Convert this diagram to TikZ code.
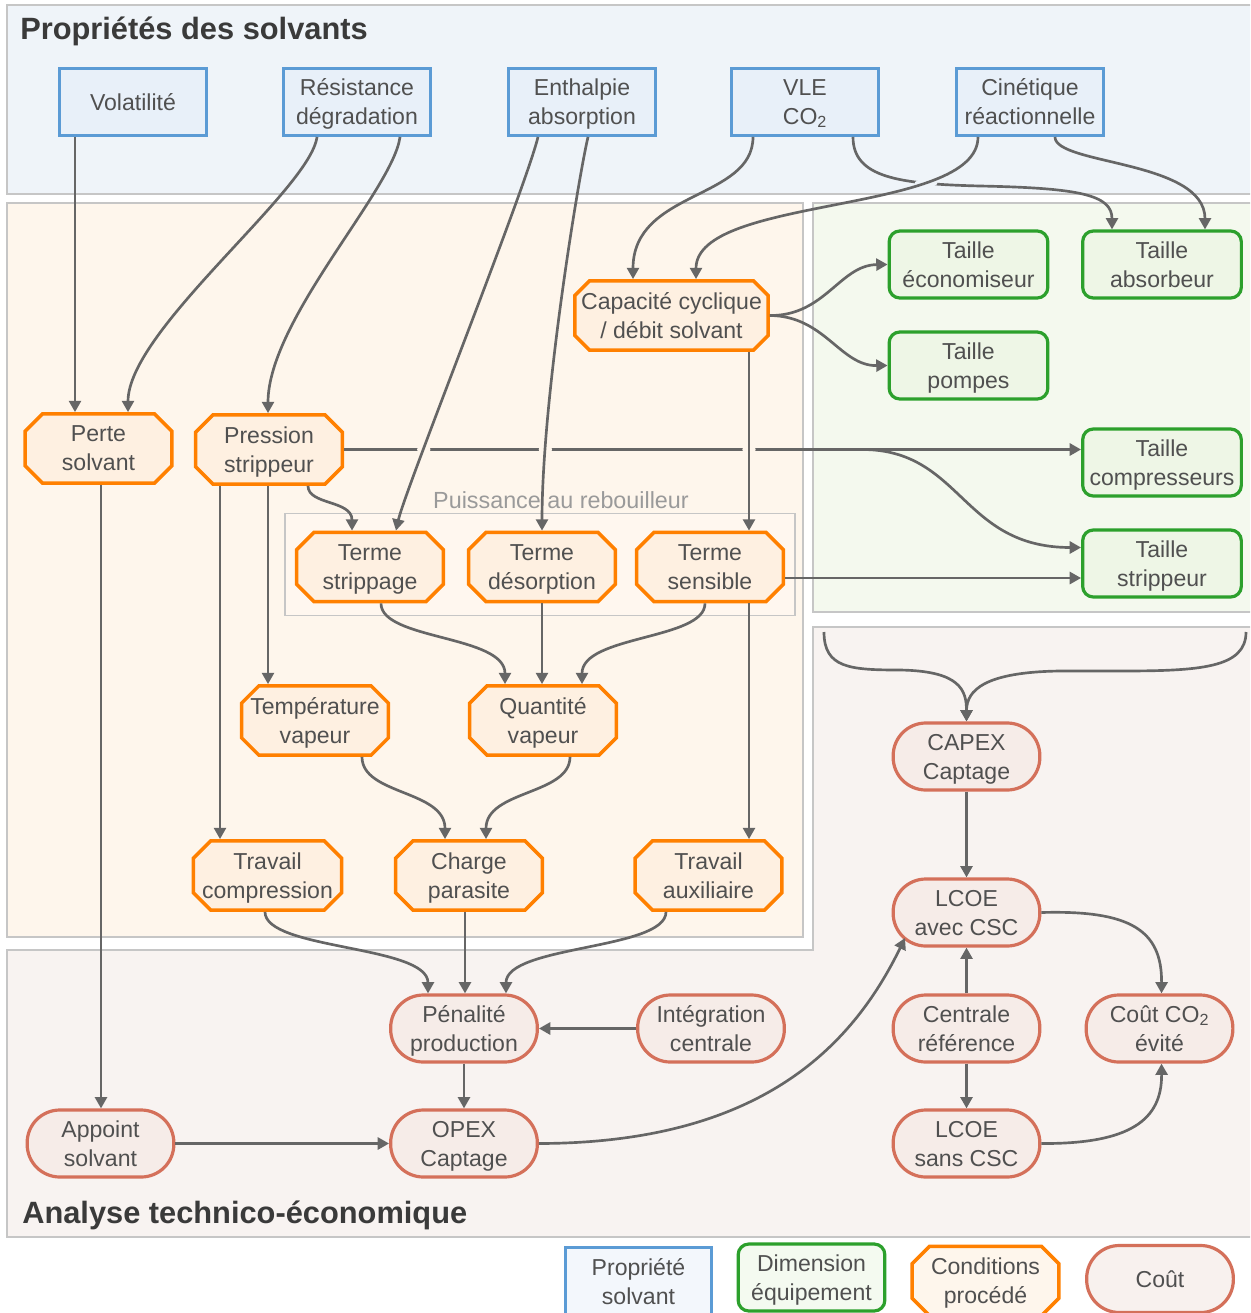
\documentclass[tikz,border=0pt]{standalone}
\usepackage{fontspec}
\setmainfont{Liberation Sans}
\usetikzlibrary{shapes.misc,arrows.meta,calc,intersections}
\definecolor{panB}{HTML}{EFF4F9}
\definecolor{panO}{HTML}{FEF6EC}
\definecolor{panG}{HTML}{F4F9EE}
\definecolor{panC}{HTML}{F8F3F1}
\definecolor{panBd}{HTML}{C6C6C6}
\definecolor{blueb}{HTML}{5B9BD5}
\definecolor{bluef}{HTML}{E8F0F9}
\definecolor{bluefl}{HTML}{F3F7FC}
\definecolor{orangeb}{HTML}{FF8000}
\definecolor{orangef}{HTML}{FEF0E1}
\definecolor{orangefl}{HTML}{FEF6EC}
\definecolor{greenb}{HTML}{2CA02C}
\definecolor{greenf}{HTML}{EEF6E6}
\definecolor{greenfl}{HTML}{F4FAF0}
\definecolor{brownb}{HTML}{D4705A}
\definecolor{brownf}{HTML}{F6ECE8}
\definecolor{brownfl}{HTML}{F8F1EE}
\definecolor{txtc}{HTML}{505050}
\definecolor{titc}{HTML}{3A3A3A}
\definecolor{arrc}{HTML}{666666}
\definecolor{grpc}{HTML}{9A9A9A}
\definecolor{grpf}{HTML}{FFF7EF}
\tikzset{
  panel/.style={draw=panBd, line width=1.1pt},
  title/.style={font=\fontsize{23.1}{27}\selectfont\bfseries, text=titc, inner sep=0pt},
  base/.style={align=center, text=txtc, font=\fontsize{17.3}{21.75}\selectfont, inner sep=0pt, text depth=0pt, minimum width=110pt, minimum height=50.25pt},
  prop/.style={base, rectangle, draw=blueb, fill=bluef, line width=2.2pt},
  equip/.style={base, rectangle, rounded corners=8pt, draw=greenb, fill=greenf, line width=2.4pt, minimum width=119pt},
  cond/.style={base, chamfered rectangle, chamfered rectangle xsep=6.5pt, chamfered rectangle ysep=6.5pt, draw=orangeb, fill=orangef, line width=2.6pt, minimum height=52pt},
  cost/.style={base, rectangle, rounded corners=24.5pt, draw=brownb, fill=brownf, line width=2.4pt},
  grpbox/.style={chamfered rectangle, chamfered rectangle xsep=7pt, chamfered rectangle ysep=7pt, draw=panBd, fill=grpf, line width=0.8pt, minimum width=382.5pt, minimum height=77pt, inner sep=0pt},
  grplabel/.style={font=\fontsize{17.5}{20}\selectfont, text=grpc, inner sep=0pt},
  arr/.style={draw=arrc, line width=2pt, -{Triangle[length=8.5pt,width=9pt]}},
}
\begin{document}
\begin{tikzpicture}[x=0.75pt,y=-0.75pt]
\fill[white] (0,0) rectangle (1250,1313);
\useasboundingbox (0,0) rectangle (1250,1313);
\clip (0,0) rectangle (1250,1313);

% panels
\draw[panel, fill=panB] (7,5) rectangle (1252,194);
\draw[panel, fill=panO] (7,203) rectangle (803,937);
\draw[panel, fill=panG] (813,203) rectangle (1252,612);
\draw[panel, fill=panC] (7,950) -- (813,950) -- (813,627) -- (1252,627) -- (1252,1237) -- (7,1237) -- cycle;

\node[title, anchor=base west] (t1) at (20,40) {Propriétés des solvants};
\node[title, anchor=base west] (t2) at (22,1223) {Analyse technico-économique};

% group
\node[grpbox] (grp) at (540,564.5) {};
\node[grplabel] (grpl) at (561,500) {Puissance au rebouilleur};

% solvent properties
\node[prop] (vol) at (133,102) {Volatilité};
\node[prop] (res) at (357,102) {Résistance\\dégradation};
\node[prop] (ent) at (582,102) {Enthalpie\\absorption};
\node[prop] (vle) at (805,102) {VLE\\CO\textsubscript{2}};
\node[prop] (cin) at (1030,102) {Cinétique\\réactionnelle};

% process conditions
\node[cond, chamfered rectangle xsep=4.5pt, minimum width=145pt] (cap) at (671.5,315.5) {Capacité cyclique\\/ débit solvant};
\node[cond] (perte) at (98.5,448.5) {Perte\\solvant};
\node[cond] (pres) at (269,449.5) {Pression\\strippeur};
\node[cond] (strp) at (370,567) {Terme\\strippage};
\node[cond] (desp) at (542,567) {Terme\\désorption};
\node[cond] (sens) at (710,567) {Terme\\sensible};
\node[cond] (temp) at (315,720.5) {Température\\vapeur};
\node[cond] (quant) at (543,720.5) {Quantité\\vapeur};
\node[cond] (tcomp) at (267.5,875.5) {Travail\\compression};
\node[cond] (charge) at (469,875.5) {Charge\\parasite};
\node[cond] (taux) at (708.5,875.5) {Travail\\auxiliaire};

% equipment
\node[equip] (eco) at (968.5,264.5) {Taille\\économiseur};
\node[equip] (abs) at (1162,264.5) {Taille\\absorbeur};
\node[equip] (pomp) at (968.5,365.5) {Taille\\pompes};
\node[equip] (comp) at (1162,462.5) {Taille\\compresseurs};
\node[equip] (tstr) at (1162,563.5) {Taille\\strippeur};

% costs
\node[cost] (capex) at (966.5,756.5) {CAPEX\\Captage};
\node[cost] (lav) at (966.5,912.5) {LCOE\\avec CSC};
\node[cost] (pen) at (464,1028.5) {Pénalité\\production};
\node[cost] (integ) at (711,1028.5) {Intégration\\centrale};
\node[cost] (cref) at (966.5,1028.5) {Centrale\\référence};
\node[cost] (cout) at (1159.5,1028.5) {Coût CO\textsubscript{2}\\évité};
\node[cost] (app) at (100.5,1143.5) {Appoint\\solvant};
\node[cost] (opex) at (464,1143.5) {OPEX\\Captage};
\node[cost] (lsans) at (966.5,1143.5) {LCOE\\sans CSC};

% legend
\node[prop, fill=bluefl] (lg1) at (638.5,1281) {Propriété\\solvant};
\node[equip, fill=greenfl, minimum width=110pt] (lg2) at (811.5,1277.5) {Dimension\\équipement};
\node[cond, fill=orangefl] (lg3) at (985.5,1281) {Conditions\\procédé};
\node[cost, fill=brownfl] (lg4) at (1160,1279) {Coût};

% ---- connectors ----
\draw[arr] ($(vol.south)+(-58,0)$) -- ($(perte.north)+(-23.5,0)$);
\draw[arr] ($(res.south)+(-40,0)$) .. controls (310,190) and (128,330) .. ($(perte.north)+(29.5,0)$);
\draw[arr] ($(res.south)+(43,0)$) .. controls (393,190) and (268,320) .. ($(pres.north)+(-1,0)$);
\draw[arr] ($(vle.south)+(-52,0)$) .. controls (753,200) and (633,190) .. ($(cap.north)+(-38.5,0)$);
\draw[arr, name path=e7] ($(vle.south)+(48,0)$) .. controls (853,178) and (900,184) .. (980,186) .. controls (1080,188) and (1112,195) .. ($(abs.north)+(-50,0)$);
\path[name path=e8] ($(cin.south)+(-52,0)$) .. controls (978,215) and (696,195) .. ($(cap.north)+(24.5,0)$);
\fill[panB, name intersections={of=e7 and e8, by=i78}] (i78) ellipse[x radius=8.5pt, y radius=3pt];
\draw[arr] ($(cin.south)+(-52,0)$) .. controls (978,215) and (696,195) .. ($(cap.north)+(24.5,0)$);
\draw[arr] ($(cin.south)+(25,0)$) .. controls (1055,165) and (1205,160) .. ($(abs.north)+(43,0)$);

\draw[arr] (cap.east) .. controls (825,316) and (840,265) .. (eco.west);
\draw[arr] (cap.east) .. controls (825,316) and (840,366) .. (pomp.west);

\draw[arr, name path=h13] (pres.east) -- (pres.east -| comp.west);
\draw[arr] (pres.east) -- ++(518,0) .. controls +(100,0) and +(-120,0) .. ($(tstr.west)+(0,-16)$);
\path[name path=e4] ($(ent.south)+(-44,0)$) .. controls (525,190) and (405,490) .. ($(strp.north)+(26,0)$);
\path[name path=e5] ($(ent.south)+(6,0)$) .. controls (578,180) and (542,400) .. (desp.north);
\path[name path=e12] ($(cap.south)+(77.5,0)$) -- ($(sens.north)+(39,0)$);
\fill[panO, name intersections={of=h13 and e4, by=i4}] (i4) ellipse[x radius=5pt, y radius=3pt];
\fill[panO, name intersections={of=h13 and e5, by=i5}] (i5) ellipse[x radius=5pt, y radius=3pt];
\fill[panO, name intersections={of=h13 and e12, by=i12}] (i12) ellipse[x radius=5pt, y radius=3pt];
\draw[arr] ($(ent.south)+(-44,0)$) .. controls (525,190) and (405,490) .. ($(strp.north)+(26,0)$);
\draw[arr] ($(ent.south)+(6,0)$) .. controls (578,180) and (542,400) .. (desp.north);
\draw[arr] ($(cap.south)+(77.5,0)$) -- ($(sens.north)+(39,0)$);

\draw[arr] ($(sens.east)+(0,11)$) -- ($(tstr.west)+(0,14.5)$);
\draw[arr] ($(pres.south)+(39,0)$) .. controls (308,505) and (352,500) .. ($(strp.north)+(-18,0)$);
\draw[arr] ($(pres.south)+(-1,0)$) -- ($(temp.north)+(-47,0)$);
\draw[arr] ($(pres.south)+(-49,0)$) -- ($(tcomp.north)+(-47.5,0)$);
\draw[arr] ($(strp.south)+(11,0)$) .. controls (381,640) and (505,635) .. ($(quant.north)+(-38,0)$);
\draw[arr] (desp.south) -- ($(quant.north)+(-1,0)$);
\draw[arr] ($(sens.south)+(-5,0)$) .. controls (705,640) and (582,635) .. ($(quant.north)+(39,0)$);
\draw[arr] ($(sens.south)+(39,0)$) -- ($(taux.north)+(40.5,0)$);
\draw[arr] ($(temp.south)+(47,0)$) .. controls (362,795) and (445,790) .. ($(charge.north)+(-24,0)$);
\draw[arr] ($(quant.south)+(27,0)$) .. controls (570,795) and (486,790) .. ($(charge.north)+(17,0)$);
\draw[arr] ($(tcomp.south)+(-2.5,0)$) .. controls (265,950) and (428,945) .. ($(pen.north)+(-36,0)$);
\draw[arr] ($(charge.south)+(-4,0)$) -- ($(pen.north)+(1,0)$);
\draw[arr] ($(taux.south)+(-42.5,0)$) .. controls (666,950) and (506,945) .. ($(pen.north)+(42,0)$);
\draw[arr] (integ.west) -- (pen.east);
\draw[arr] (pen.south) -- (opex.north);
\draw[arr] ($(perte.south)+(2.5,0)$) -- ($(app.north)+(0.5,0)$);
\draw[arr] (app.east) -- (opex.west);
\draw[arr] (opex.east) .. controls (760,1143) and (852,1047) .. ($(lav.center)+(-61.5,25.5)$);
\draw[arr] (capex.south) -- (lav.north);
\draw[arr] (cref.north) -- (lav.south);
\draw[arr] (cref.south) -- (lsans.north);
\draw[arr] (lav.east) .. controls (1130,910) and (1162,930) .. ($(cout.north)+(2,0)$);
\draw[arr] (lsans.east) .. controls (1130,1144) and (1162,1120) .. ($(cout.south)+(2,0)$);
\coordinate (capin1) at (824,632);
\coordinate (capin2) at (1246,632);
\draw[arr] (capin1) .. controls (824,668) and (850,670) .. (900,670) .. controls (960,671) and (966.5,690) .. (capex.north);
\draw[arr] (capin2) .. controls (1246,668) and (1200,671) .. (1120,671) -- (1060,671) .. controls (985,672) and (966.5,690) .. (capex.north);
\end{tikzpicture}
\end{document}
